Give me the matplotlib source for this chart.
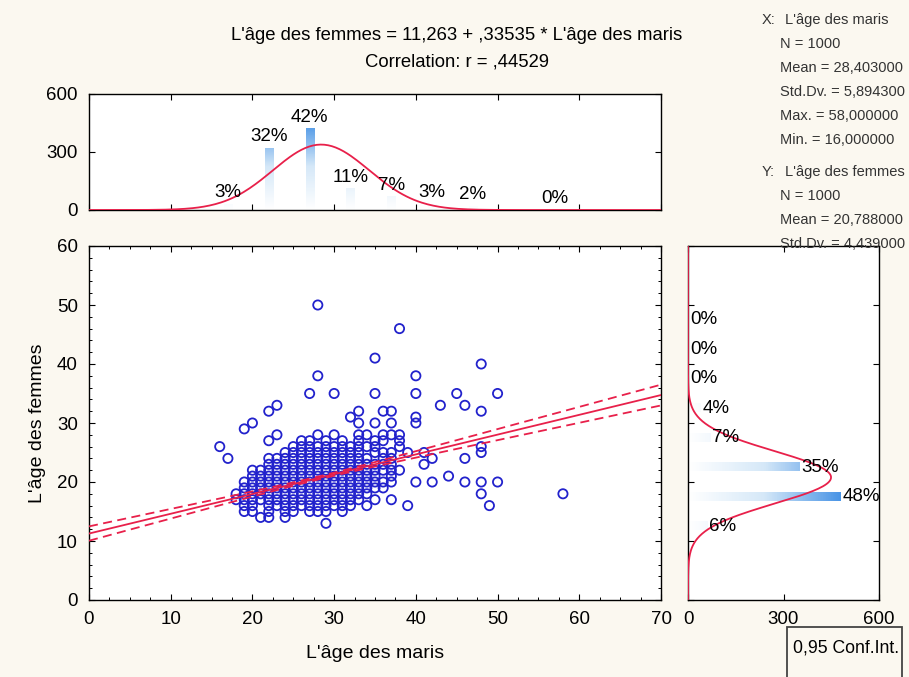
import numpy as np
import matplotlib
matplotlib.use('Agg')
import matplotlib.pyplot as plt
from matplotlib.ticker import MultipleLocator
from matplotlib.patches import Rectangle
from matplotlib.colors import LinearSegmentedColormap

plt.rcParams['font.family'] = ['Liberation Sans', 'DejaVu Sans']

# ---------------- data / statistics ----------------
intercept = 11.263
slope = 0.33535
r_value = 0.44529
n_obs = 1000
mean_x, sd_x = 28.403, 5.8943
mean_y, sd_y = 20.788, 4.4390
bin_width = 5

# histogram of husbands' ages (top)
x_bins = [17, 22, 27, 32, 37, 42, 47, 57]
x_pct = [3, 32, 42, 11, 7, 3, 2, 0]
# histogram of wives' ages (right)
y_bins = [12.5, 17.5, 22.5, 27.5, 32.5, 37.5, 42.5, 47.5]
y_pct = [6, 48, 35, 7, 4, 0, 0, 0]

# scatter: wife's age -> husbands' ages seen on that row
wife_rows = {
    50: [28],
    46: [38],
    41: [35],
    40: [48],
    38: [28, 40],
    35: [27, 30, 35, 40, 45, 50],
    33: [23, 43, 46],
    32: [22, 33, 36, 37, 48],
    31: [32, 40],
    30: [20, 33, 35, 37, 40],
    29: [19],
    28: [23, 28, 30, 33, 34, 36, 37, 38],
    27: [22, 26, 27, 29, 31, 33, 35, 36, 38],
    26: [16, 25, 26, 27, 28, 29, 30, 31, 32, 33, 34, 35, 38, 48],
    25: [24, 25, 26, 27, 28, 29, 30, 31, 32, 33, 35, 36, 37, 39, 41, 48],
    24: [17, 22, 23, 24, 25, 26, 27, 28, 29, 30, 31, 32, 33, 34, 36, 37, 42, 46],
    23: [22, 23, 24, 25, 26, 27, 28, 29, 30, 31, 32, 33, 34, 35, 36, 37, 41],
    22: [20, 21, 22, 23, 24, 25, 26, 27, 28, 29, 30, 31, 32, 33, 34, 35, 36, 37, 38],
    21: [20, 21, 22, 23, 24, 25, 26, 27, 28, 29, 30, 31, 32, 33, 34, 35, 37, 44],
    20: [19, 20, 21, 22, 23, 24, 25, 26, 27, 28, 29, 30, 31, 32, 33, 34, 35, 36, 37,
         40, 42, 46, 48, 50],
    19: [19, 20, 21, 22, 23, 24, 25, 26, 27, 28, 29, 30, 31, 32, 33, 34, 35, 36],
    18: [18, 19, 20, 21, 22, 23, 24, 25, 26, 27, 28, 29, 30, 31, 32, 33, 34, 48, 58],
    17: [18, 19, 20, 21, 22, 23, 24, 25, 26, 27, 28, 29, 30, 31, 32, 33, 35, 37],
    16: [19, 20, 22, 23, 24, 25, 26, 27, 28, 29, 30, 31, 32, 34, 39, 49],
    15: [19, 20, 22, 24, 25, 27, 28, 29, 31],
    14: [21, 22, 24],
    13: [29],
}
husband_ages = [x for y, xs in wife_rows.items() for x in xs]
wife_ages = [y for y, xs in wife_rows.items() for x in xs]

title_eq = "L'âge des femmes = 11,263 + ,33535 * L'âge des maris"
title_r = "Correlation: r = ,44529"
stats_x_head = ("X:", "L'âge des maris")
stats_x = ["N = 1000", "Mean = 28,403000", "Std.Dv. = 5,894300",
           "Max. = 58,000000", "Min. = 16,000000"]
stats_y_head = ("Y:", "L'âge des femmes")
stats_y = ["N = 1000", "Mean = 20,788000", "Std.Dv. = 4,439000"]

# ---------------- figure ----------------
W, H = 909, 677
fig = plt.figure(figsize=(W / 100, H / 100), dpi=100, facecolor='#FBF8F0')


def fax(l, t, r, b):
    return [l / W, 1 - b / H, (r - l) / W, (b - t) / H]


ax = fig.add_axes(fax(89, 246, 661, 600))
axt = fig.add_axes(fax(89, 94, 661, 210))
axr = fig.add_axes(fax(688, 246, 879, 600))

red = '#E8204A'
blue = '#2222CC'
cmap = LinearSegmentedColormap.from_list('bar', ['#FFFFFF', '#D5E8F8', '#4A95E6'])

for a in (ax, axt, axr):
    a.set_facecolor('white')
    for s in a.spines.values():
        s.set_linewidth(1.0)
        s.set_color('black')
    a.tick_params(direction='in', top=True, right=True, labelsize=13.5, length=4,
                  width=0.8, colors='black', pad=8)
    a.tick_params(which='minor', direction='in', top=True, right=True, length=2.5, width=0.7)

# ---- main scatter ----
ax.scatter(husband_ages, wife_ages, s=44, facecolors='none', edgecolors=blue,
           linewidths=1.3, zorder=3)
xs = np.linspace(0, 70, 200)
yfit = intercept + slope * xs
sxx = (n_obs - 1) * sd_x ** 2
s_res = sd_y * np.sqrt(1 - r_value ** 2) * np.sqrt((n_obs - 1) / (n_obs - 2))
half = 1.962 * s_res * np.sqrt(1 / n_obs + (xs - mean_x) ** 2 / sxx)
ax.plot(xs, yfit, color=red, lw=1.3, zorder=4)
ax.plot(xs, yfit + half, color=red, lw=1.3, ls=(0, (5, 3)), zorder=4)
ax.plot(xs, yfit - half, color=red, lw=1.3, ls=(0, (5, 3)), zorder=4)
ax.set_xlim(0, 70)
ax.set_ylim(0, 60)
ax.xaxis.set_major_locator(MultipleLocator(10))
ax.yaxis.set_major_locator(MultipleLocator(10))
ax.xaxis.set_minor_locator(MultipleLocator(2.5))
ax.yaxis.set_minor_locator(MultipleLocator(2))
ax.set_xlabel("L'âge des maris", fontsize=14, labelpad=12)
ax.set_ylabel("L'âge des femmes", fontsize=14, labelpad=8)

# ---- top histogram ----
bw_top = 1.0
for xc, p in zip(x_bins, x_pct):
    h = p * n_obs / 100
    if h > 0:
        grad = np.linspace(0, h, 60).reshape(-1, 1) / 450
        axt.imshow(grad, extent=[xc - bw_top / 2, xc + bw_top / 2, 0, h], origin='lower',
                   aspect='auto', cmap=cmap, vmin=0, vmax=1, zorder=2)
    axt.text(xc, h + 15, f"{p}%", ha='center', va='bottom', fontsize=13.5, zorder=5)
gx = np.linspace(0, 70, 300)
axt.plot(gx, n_obs * bin_width * np.exp(-0.5 * ((gx - mean_x) / sd_x) ** 2) / (sd_x * np.sqrt(2 * np.pi)),
         color=red, lw=1.3, zorder=4)
axt.set_xlim(0, 70)
axt.set_ylim(0, 600)
axt.set_yticks([0, 300, 600])
axt.xaxis.set_major_locator(MultipleLocator(10))
axt.tick_params(labelbottom=False)

# ---- right histogram ----
bh_right = 1.4
for yc, p in zip(y_bins, y_pct):
    w = p * n_obs / 100
    if w > 0:
        grad = np.linspace(0, w, 60).reshape(1, -1) / 480
        axr.imshow(grad, extent=[0, w, yc - bh_right / 2, yc + bh_right / 2], origin='lower',
                   aspect='auto', cmap=cmap, vmin=0, vmax=1, zorder=2)
    axr.text(w + 6, yc, f"{p}%", ha='left', va='center', fontsize=13.5, zorder=5)
gy = np.linspace(0, 60, 300)
axr.plot(n_obs * bin_width * np.exp(-0.5 * ((gy - mean_y) / sd_y) ** 2) / (sd_y * np.sqrt(2 * np.pi)), gy,
         color=red, lw=1.3, zorder=4)
axr.set_xlim(0, 600)
axr.set_ylim(0, 60)
axr.set_xticks([0, 300, 600])
axr.yaxis.set_major_locator(MultipleLocator(10))
axr.tick_params(labelleft=False)

# ---- texts ----
fig.text(457 / W, 1 - 35 / H, title_eq, ha='center', va='center', fontsize=13.3)
fig.text(457 / W, 1 - 62 / H, title_r, ha='center', va='center', fontsize=13.3)

sfs = 10.5
scol = '#333333'
for head, lines, y0 in ((stats_x_head, stats_x, 20), (stats_y_head, stats_y, 172)):
    fig.text(762 / W, 1 - y0 / H, head[0], ha='left', va='center', fontsize=sfs, color=scol, zorder=10)
    fig.text(785 / W, 1 - y0 / H, head[1], ha='left', va='center', fontsize=sfs, color=scol, zorder=10)
    for i, s in enumerate(lines):
        fig.text(780 / W, 1 - (y0 + 24 * (i + 1)) / H, s, ha='left', va='center',
                 fontsize=sfs, color=scol, zorder=10)

fig.patches.append(Rectangle((787 / W, -0.02), (902 - 787) / W, (677 - 627) / H + 0.02,
                             transform=fig.transFigure, fill=False, edgecolor='#444444', lw=1.3))
fig.text(793 / W, 1 - 648 / H, "0,95 Conf.Int.", ha='left', va='center', fontsize=12.7)

fig.savefig('out.png', dpi=100, facecolor=fig.get_facecolor())
